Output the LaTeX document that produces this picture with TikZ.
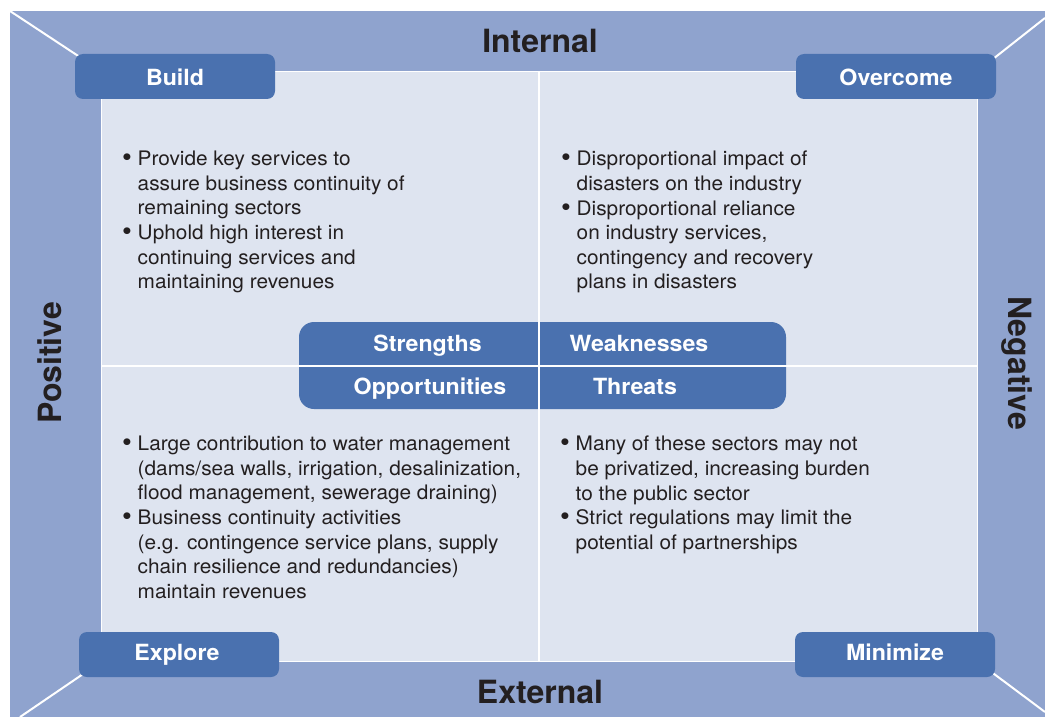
\documentclass[tikz,border=0pt]{standalone}
\usepackage{fontspec}
\setmainfont{TeX Gyre Heros}[FakeStretch=1.04]
\newfontfamily\sidefont{TeX Gyre Heros}
\definecolor{frameblue}{HTML}{8FA3CE}
\definecolor{panelblue}{HTML}{DEE4F0}
\definecolor{boxblue}{HTML}{4A71AF}
\definecolor{txt}{HTML}{231F20}
\newcommand\bul{\makebox[15.5pt][l]{\raisebox{-1pt}{\fontsize{27}{27}\selectfont•}}}
\newcommand\ind{\hspace*{15.5pt}}
\tikzset{
  tagbox/.style={fill=boxblue, rounded corners=8pt, minimum width=200pt, minimum height=45pt,
    inner sep=0pt},
  boxlbl/.style={text=white, inner sep=0pt, anchor=base, font=\fontsize{22.3}{26}\selectfont\bfseries},
  sidelbl/.style={text=txt, inner sep=0pt, anchor=base, font=\sidefont\fontsize{32}{36}\selectfont\bfseries},
  body/.style={text=txt, inner sep=0pt, anchor=north west, align=left,
    font=\fontsize{20}{24.6}\selectfont},
  sep/.style={draw=white, line width=2pt}
}
\begin{document}
\begin{tikzpicture}[x=1pt,y=-1pt]
\useasboundingbox (0,0) rectangle (1045,717);
% frame and panel
\node[fill=frameblue, minimum width=1035pt, minimum height=706pt, inner sep=0pt, anchor=north west] (frame) at (10,11) {};
\node[fill=panelblue, draw=white, line width=0.8pt, minimum width=876pt, minimum height=590pt, inner sep=0pt, anchor=north west] (panel) at (101,71) {};
% diagonal connectors
\coordinate (tl) at (10,11);
\coordinate (tr) at (1045,18);
\coordinate (bl) at (20,717);
\coordinate (br) at (1045,712);
\draw[sep] (tl) -- (panel.north west);
\draw[sep] (tr) -- (panel.north east);
\draw[sep] (bl) -- (panel.south west);
\draw[sep] (br) -- (panel.south east);
% centre box
\node[fill=boxblue, rounded corners=15pt, minimum width=487pt, minimum height=87pt, inner sep=0pt] (swot) at (542.5,365.5) {};
% quadrant separators
\draw[sep] (panel.north -| 539,0) coordinate (vt) -- (panel.south -| 539,0) coordinate (vb);
\draw[sep] (panel.west |- 0,366) coordinate (hl) -- (panel.east |- 0,366) coordinate (hr);
% corner tags
\node[tagbox] (build) at (175,76.5) {};
\node[tagbox] (overcome) at (896,76.5) {};
\node[tagbox] (explore) at (179,654.5) {};
\node[tagbox] (minimize) at (895,654.5) {};
\node[boxlbl] (buildlbl) at (175,85.5) {Build};
\node[boxlbl] (overcomelbl) at (896,85.5) {Overcome};
\node[boxlbl] (explorelbl) at (177,660) {Explore};
\node[boxlbl] (minimizelbl) at (895,660) {Minimize};
% swot labels
\node[boxlbl] (s) at (427.5,351) {Strengths};
\node[boxlbl] (w) at (639,351) {Weaknesses};
\node[boxlbl] (o) at (430,394) {Opportunities};
\node[boxlbl] (t) at (635,394) {Threats};
% side labels
\node[sidelbl] (internal) at (540,52.5) {Internal};
\node[sidelbl] (external) at (540,703) {External};
\node[sidelbl, rotate=90] (positive) at (61,363) {Positive};
\node[sidelbl, rotate=-90] (negative) at (1008,363) {Negative};
% body texts
\node[body] (tltext) at (122,151) {\bul Provide key services to\\ \ind assure business continuity of\\ \ind remaining sectors\\ \bul Uphold high interest in\\ \ind continuing services and\\ \ind maintaining revenues};
\node[body] (trtext) at (561,151) {\bul Disproportional impact of\\ \ind disasters on the industry\\ \bul Disproportional reliance\\ \ind on industry services,\\ \ind contingency and recovery\\ \ind plans in disasters};
\node[body] (bltext) at (122,436) {\bul Large contribution to water management\\ \ind (dams/sea walls, irrigation, desalinization,\\ \ind flood management, sewerage draining)\\ \bul Business continuity activities\\ \ind (e.g. contingence service plans, supply\\ \ind chain resilience and redundancies)\\ \ind maintain revenues};
\node[body] (brtext) at (560,436) {\bul Many of these sectors may not\\ \ind be privatized, increasing burden\\ \ind to the public sector\\ \bul Strict regulations may limit the\\ \ind potential of partnerships};
\end{tikzpicture}
\end{document}
